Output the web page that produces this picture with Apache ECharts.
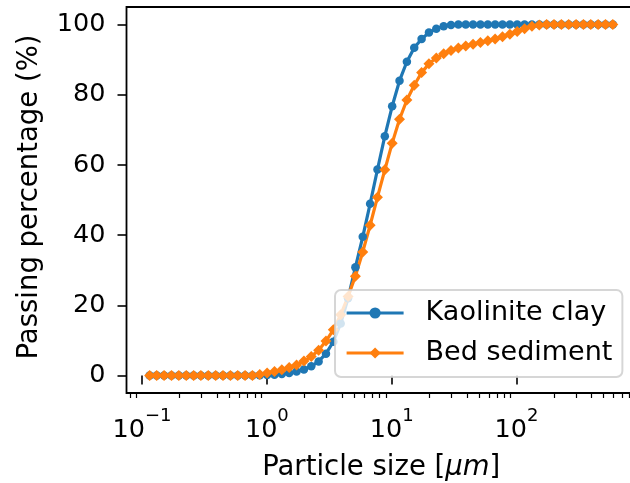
<!DOCTYPE html>
<html>
<head>
<meta charset="utf-8">
<script src="https://cdn.jsdelivr.net/npm/echarts@6/dist/echarts.min.js"></script>
<style>
  html, body { margin: 0; padding: 0; background: #ffffff; }
  #chart { width: 630px; height: 483px; }
</style>
</head>
<body>
<div id="chart"></div>
<script>
// Particle size classes [um]
const sizes = [
  0.115, 0.131, 0.150, 0.172, 0.197, 0.226, 0.259, 0.296, 0.339, 0.389,
  0.445, 0.510, 0.584, 0.669, 0.766, 0.877, 1.005, 1.151, 1.318, 1.510,
  1.729, 1.981, 2.269, 2.599, 2.976, 3.409, 3.905, 4.472, 5.122, 5.867,
  6.720, 7.697, 8.816, 10.097, 11.565, 13.246, 15.172, 17.377, 19.904, 22.797,
  26.111, 29.907, 34.255, 39.234, 44.938, 51.471, 58.953, 67.523, 77.339, 88.583,
  101.46, 116.21, 133.10, 152.45, 174.62, 200.00, 229.08, 262.38, 300.52, 344.21,
  394.24, 451.56, 517.20, 592.39
];

// Cumulative passing percentage (%)
const kaolinite = [
  0, 0, 0, 0, 0, 0, 0, 0, 0, 0,
  0, 0, 0, 0, 0, 0.05, 0.1, 0.2, 0.4, 0.7,
  1.1, 1.7, 2.6, 4.0, 6.2, 9.6, 14.8, 22.0, 30.8, 39.5,
  48.9, 58.7, 68.2, 76.7, 84.0, 89.4, 93.4, 95.9, 97.7, 98.8,
  99.5, 99.85, 100, 100, 100, 100, 100, 100, 100, 100,
  100, 100, 100, 100, 100, 100, 100, 100, 100, 100,
  100, 100, 100, 100
];

const bedSediment = [
  0, 0, 0, 0, 0, 0, 0, 0, 0, 0,
  0, 0, 0, 0, 0, 0.3, 0.7, 1.1, 1.6, 2.3,
  3.0, 4.1, 5.4, 7.2, 9.8, 13.0, 17.3, 22.5, 28.3, 35.2,
  42.8, 50.8, 58.6, 66.2, 73.0, 78.5, 82.7, 86.3, 88.8, 90.5,
  91.7, 92.6, 93.3, 93.9, 94.4, 94.9, 95.4, 95.9, 96.5, 97.2,
  98.0, 98.8, 99.5, 99.9, 100, 100, 100, 100, 100, 100,
  100, 100, 100, 100
];

const seriesNames = ['Kaolinite clay', 'Bed sediment'];
const yTicks = [0, 20, 40, 60, 80, 100];
const xMinorTicks = [
  0.08, 0.09,
  0.2, 0.3, 0.4, 0.5, 0.6, 0.7, 0.8, 0.9,
  2, 3, 4, 5, 6, 7, 8, 9,
  20, 30, 40, 50, 60, 70, 80, 90,
  200, 300, 400, 500, 600, 700, 800, 900
];

const FONT = 'DejaVu Sans';
const BLUE = '#1f77b4';
const ORANGE = '#ff7f0e';

// 5% padding around the data in log space
const lo = Math.log10(Math.min(...sizes));
const hi = Math.log10(Math.max(...sizes));
const pad = (hi - lo) * 0.05;
const xMin = Math.pow(10, lo - pad);
const xMax = Math.pow(10, hi + pad);

const toPairs = (vals) => sizes.map((s, i) => [s, vals[i]]);

const chart = echarts.init(document.getElementById('chart'), null, { renderer: 'canvas' });

chart.setOption({
  animation: false,
  backgroundColor: '#ffffff',
  grid: {
    left: 126.5,
    top: 7,
    width: 509.5,
    height: 386,
    show: true,
    borderColor: '#000000',
    borderWidth: 1.8,
    backgroundColor: 'transparent',
    outerBoundsMode: 'none',
    containLabel: false
  },
  legend: {
    orient: 'vertical',
    left: 335,
    top: 290,
    padding: [8, 10, 9, 10],
    itemGap: 10,
    itemWidth: 57,
    itemHeight: 14,
    selectedMode: false,
    backgroundColor: 'rgba(255,255,255,0.8)',
    borderColor: 'rgba(204,204,204,0.8)',
    borderWidth: 2,
    borderRadius: 6,
    lineStyle: { width: 3.2 },
    textStyle: {
      fontFamily: FONT,
      fontSize: 27,
      color: '#000000',
      lineHeight: 30,
      padding: [0, 0, 0, 17]
    },
    data: seriesNames
  },
  xAxis: [
    {
      type: 'log',
      logBase: 10,
      min: xMin,
      max: xMax,
      name: 'Particle size [{i|μm}]',
      nameLocation: 'middle',
      nameGap: 60,
      nameTextStyle: {
        fontFamily: FONT,
        fontSize: 27.5,
        color: '#000000',
        lineHeight: 30,
        rich: {
          i: { fontFamily: FONT, fontSize: 27.5, fontStyle: 'italic', color: '#000000', lineHeight: 30 }
        }
      },
      axisLine: { show: false },
      axisTick: { show: true, inside: false, length: 9, lineStyle: { color: '#000000', width: 1.6 } },
      splitLine: { show: false },
      minorTick: { show: false },
      axisLabel: {
        show: true,
        margin: 14,
        showMinLabel: false,
        showMaxLabel: false,
        color: '#000000',
        fontFamily: FONT,
        formatter: function (v) {
          const e = Math.round(Math.log10(v));
          const exp = e < 0 ? '\u2212' + Math.abs(e) : String(e);
          return '{b|10}{s|' + exp + '}';
        },
        rich: {
          b: { fontFamily: FONT, fontSize: 25.5, color: '#000000', lineHeight: 36, verticalAlign: 'bottom' },
          s: { fontFamily: FONT, fontSize: 18, color: '#000000', lineHeight: 20, verticalAlign: 'top' }
        }
      }
    },
    {
      type: 'log',
      logBase: 10,
      min: xMin,
      max: xMax,
      position: 'bottom',
      axisLine: { show: false },
      axisLabel: { show: false },
      splitLine: { show: false },
      axisTick: {
        show: true,
        inside: false,
        length: 5,
        customValues: xMinorTicks,
        lineStyle: { color: '#000000', width: 1.2 }
      }
    }
  ],
  yAxis: {
    type: 'value',
    min: -5,
    max: 105,
    name: 'Passing percentage (%)',
    nameLocation: 'middle',
    nameGap: 82,
    nameTextStyle: {
      fontFamily: FONT,
      fontSize: 27.5,
      color: '#000000',
      lineHeight: 30,
      padding: [0, 0, 0, 6]
    },
    axisLine: { show: false },
    splitLine: { show: false },
    axisTick: {
      show: true,
      inside: false,
      length: 9,
      customValues: yTicks,
      lineStyle: { color: '#000000', width: 1.6 }
    },
    axisLabel: {
      show: true,
      margin: 21,
      customValues: yTicks,
      fontFamily: FONT,
      fontSize: 25.5,
      color: '#000000'
    }
  },
  series: [
    {
      name: seriesNames[0],
      type: 'line',
      xAxisIndex: 0,
      data: toPairs(kaolinite),
      symbol: 'circle',
      symbolSize: 8.5,
      showSymbol: true,
      showAllSymbol: true,
      lineStyle: { color: BLUE, width: 3.2 },
      itemStyle: { color: BLUE },
      emphasis: { disabled: true }
    },
    {
      name: seriesNames[1],
      type: 'line',
      xAxisIndex: 0,
      data: toPairs(bedSediment),
      symbol: 'diamond',
      symbolSize: 11,
      showSymbol: true,
      showAllSymbol: true,
      lineStyle: { color: ORANGE, width: 3.2 },
      itemStyle: { color: ORANGE },
      emphasis: { disabled: true }
    }
  ]
});
</script>
</body>
</html>
